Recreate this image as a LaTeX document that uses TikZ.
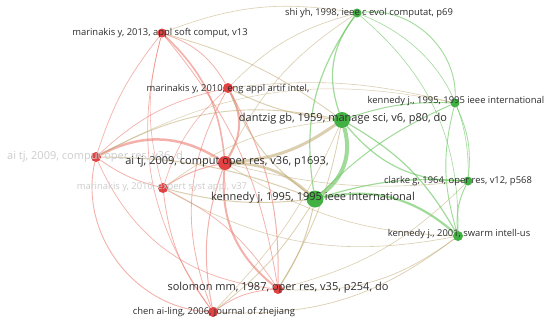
\documentclass[tikz,border=0pt]{standalone}
\usepackage{fontspec}
\setmainfont{Open Sans}
\definecolor{nred}{RGB}{226,66,66}
\definecolor{ngreen}{RGB}{66,176,66}
\definecolor{ered}{RGB}{238,125,115}
\definecolor{egreen}{RGB}{110,200,100}
\definecolor{emix}{RGB}{190,168,110}
\definecolor{labdark}{RGB}{45,45,45}
\definecolor{labfade}{RGB}{205,205,205}
\pgfdeclarelayer{bg}
\pgfsetlayers{bg,main}
\begin{document}
\begin{tikzpicture}[x=1pt,y=-1pt,
  rn/.style={circle,fill=nred,inner sep=0pt},
  gn/.style={circle,fill=ngreen,inner sep=0pt},
  lab/.style={text=labdark,inner sep=0pt,font=\fontsize{9.4}{10}\selectfont},
  labbig/.style={text=labdark,inner sep=0pt,font=\fontsize{11}{12}\selectfont},
  labfaded/.style={text=labfade,inner sep=0pt,font=\fontsize{9.4}{10}\selectfont},
  labfadedbig/.style={text=labfade,inner sep=0pt,font=\fontsize{11}{12}\selectfont},
  redE/.style={draw=ered,opacity=0.6},
  greenE/.style={draw=egreen,opacity=0.65},
  mixE/.style={draw=emix,opacity=0.55}]
\useasboundingbox (0,0) rectangle (550,322);
% nodes
\node[gn,minimum size=9pt] (S) at (357,13) {};
\node[rn,minimum size=9pt] (M13) at (162,33) {};
\node[rn,minimum size=10pt] (M10e) at (228,88) {};
\node[gn,minimum size=9pt] (K95b) at (455,103) {};
\node[gn,minimum size=16pt] (D) at (342,120) {};
\node[rn,minimum size=10pt] (A1) at (96,157) {};
\node[rn,minimum size=14pt] (A) at (225,163) {};
\node[rn,minimum size=10pt] (ME) at (163,188) {};
\node[gn,minimum size=9pt] (C) at (468,181) {};
\node[gn,minimum size=17pt] (K) at (315,199) {};
\node[gn,minimum size=10pt] (K01) at (458,236) {};
\node[rn,minimum size=10pt] (SO) at (278,289) {};
\node[rn,minimum size=10pt] (CH) at (213,312) {};
% edges (bend right = visual bulge to the right of travel)
\begin{pgfonlayer}{bg}
\fill[white] (0,0) rectangle (550,322);
\foreach \a/\b/\w/\t in {M13/M10e/0.8/-20, M13/A/1.6/-20, M13/A1/0.7/10, M13/ME/0.6/15,
  M13/SO/0.8/-15, M13/CH/0.7/25,
  M10e/A/2/-30, M10e/A1/0.7/15, M10e/ME/0.6/15, M10e/SO/1/-15, M10e/CH/0.8/25,
  A1/A/2.5/-30, A1/ME/0.8/10, A1/SO/0.7/30, A1/CH/0.9/50,
  A/ME/1/10, A/SO/2/28, A/CH/1/15, ME/SO/0.7/-15, ME/CH/0.8/15, SO/CH/0.8/15}
  \draw[redE,line width=\w pt] (\a) to[bend right=\t] (\b);
\foreach \a/\b/\w/\t in {S/D/1.2/28, S/K/1.2/22, S/K95b/0.9/-50, S/C/0.6/-35, S/K01/0.6/-25,
  D/K/4/-35, D/K95b/1/-10, D/C/1.2/25, D/K01/1.2/-15,
  K/C/1.2/-10, K/K01/2.2/-26, K/K95b/1/-10, K95b/C/0.8/-15, K95b/K01/0.9/15, C/K01/1/15}
  \draw[greenE,line width=\w pt] (\a) to[bend right=\t] (\b);
\foreach \a/\b/\w/\t in {A/D/3/15, A/K/2.6/-20, M10e/D/1/10, M10e/K/1/15, M13/S/0.6/-15,
  M13/D/0.8/-10, A1/D/0.9/-20, A1/K/1/-10, ME/K/1/10, ME/D/0.6/-15, SO/K/1/10,
  SO/D/0.8/10, SO/K01/0.7/20, CH/K/0.8/10, CH/K01/0.7/20, A/K01/0.6/15, A/C/0.6/10,
  M10e/K95b/0.6/-10, SO/C/0.6/15, ME/K01/0.6/20, A/S/0.6/-15, M10e/S/0.6/-15,
  A1/K95b/0.5/-20, CH/D/0.6/10}
  \draw[mixE,line width=\w pt] (\a) to[bend right=\t] (\b);
\end{pgfonlayer}
% labels
\node[labfadedbig] (lA1) at (95,157) {ai tj, 2009, comput oper res, v36, d};
\node[labfaded] (lME) at (162,187) {marinakis y, 2010, expert syst appl, v37};
\node[lab] (lS) at (369,13) {shi yh, 1998, ieee c evol computat, p69};
\node[lab] (lM13) at (160,33) {marinakis y, 2013, appl soft comput, v13};
\node[lab] (lM10e) at (228,89) {marinakis y, 2010, eng appl artif intel,};
\node[lab] (lK95b) at (456,101) {kennedy j., 1995, 1995 ieee international};
\node[labbig] (lD) at (343,119) {dantzig gb, 1959, manage sci, v6, p80, do};
\node[labbig] (lA) at (227,162) {ai tj, 2009, comput oper res, v36, p1693,};
\node[labbig] (lK) at (313,198) {kennedy j, 1995, 1995 ieee international};
\node[lab] (lC) at (458,181) {clarke g, 1964, oper res, v12, p568};
\node[lab] (lK01) at (459,234) {kennedy j., 2001, swarm intell-us};
\node[labbig] (lSO) at (278,288) {solomon mm, 1987, oper res, v35, p254, do};
\node[lab] (lCH) at (214,312) {chen ai-ling, 2006, journal of zhejiang};
\end{tikzpicture}
\end{document}
